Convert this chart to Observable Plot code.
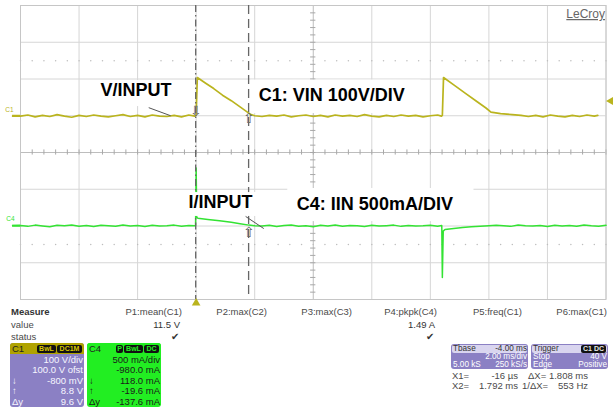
<!DOCTYPE html>
<html><head><meta charset="utf-8">
<script src="https://cdn.jsdelivr.net/npm/d3@7"></script>
<script src="https://cdn.jsdelivr.net/npm/@observablehq/plot@0.6"></script>
<style>
html,body{margin:0;padding:0;background:#fff;}
#wrap{position:relative;width:613px;height:408px;overflow:hidden;font-family:"Liberation Sans",Arial,sans-serif;}
#wrap > svg{position:absolute;left:0;top:0;}
.t{position:absolute;font-size:9.5px;line-height:10px;color:#4a4a4a;white-space:nowrap;}
.s{position:absolute;font-size:8.2px;line-height:8px;white-space:nowrap;}
.box{position:absolute;border-radius:3px;overflow:hidden;}
.badge{position:absolute;background:#111;border-radius:2px;font-size:7px;line-height:8px;text-align:center;font-weight:bold;}
</style></head><body><div id="wrap"></div>
<script>
// ---- Oscilloscope settings ----
const timeDomain = [-6, 14];          // ms (2 ms/div, 10 div, trigger at 0)
const divisionDomain = [-4, 4];       // vertical divisions
const channelNames = ["C1", "C4"];
const perDiv = [100, 500];            // C1: V/div, C4: mA/div
const offsets = [100, -980];          // C1: V, C4: mA
const triggerLevel = 40;              // V on C1
const cursorTimes = [-0.016, 1.792];  // ms
const c1AtCursor = [-0.8, 8.8];       // V
const c4AtCursor = [118.0, -19.6];    // mA

// ---- C1: VIN (V) ----
const c1Time = [-6.27,-6,-5.75,-5.5,-5.25,-5,-4.75,-4.5,-4.25,-4,-3.75,-3.5,-3.25,-3,-2.75,-2.5,-2.25,-2,-1.75,-1.5,-1.25,-1,-0.75,-0.5,-0.25,-0.05,
  0,0.04,0.3,0.6,0.9,1.2,1.5,1.75,1.85,2.0,
  2.25,2.5,2.75,3,3.25,3.5,3.75,4,4.25,4.5,4.75,5,5.25,5.5,5.75,6,6.25,6.5,6.75,7,7.25,7.5,7.75,8,8.25,8.38,
  8.41,8.45,8.8,9.2,9.6,9.9,10.07,10.4,10.8,11.1,
  11.35,11.6,11.85,12.1,12.35,12.6,12.85,13.1,13.35,13.6,13.72];
const c1Volt = [-1,-1,2,-3,1,-2,3,-1,-4,1,-2,2,-1,-3,0,3,-2,1,-3,2,-1,-2,1,-3,2,-1,
  2,104,90,74,56,41,24,10,4,0,
  -2,1,-1,2,-3,0,2,-2,1,-3,2,-1,1,-2,3,-1,-3,1,-2,2,-1,1,-3,0,2,-1,
  1,104,84,61,38,21,10,6,3,1,
  -2,1,-3,2,-1,-3,1,-2,2,-1,1];

// ---- C4: IIN (mA) ----
const c4Time = [-6.27,-6,-5.75,-5.5,-5.25,-5,-4.75,-4.5,-4.25,-4,-3.75,-3.5,-3.25,-3,-2.75,-2.5,-2.25,-2,-1.75,-1.5,-1.25,-1,-0.75,-0.5,-0.25,-0.05,
  -0.02,0,0.02,0.06,0.4,0.8,1.2,1.5,1.8,2.0,
  2.25,2.5,2.75,3,3.25,3.5,3.75,4,4.25,4.5,4.75,5,5.25,5.5,5.75,6,6.25,6.5,6.75,7,7.25,7.5,7.75,8,8.25,8.39,
  8.41,8.44,8.5,8.8,9.1,9.4,9.7,10.0,
  10.25,10.5,10.75,11,11.25,11.5,11.75,12,12.25,12.5,12.75,13,13.25,13.5,13.75,14];
const c4Amp = [-15,-12,-25,-8,-20,-30,-10,-18,-5,-22,-14,-28,-9,-17,-24,-6,-19,-13,-27,-11,-21,-16,-8,-23,-12,-18,
  -15,770,100,85,70,52,30,12,-8,-15,
  -20,-9,-26,-14,-7,-22,-16,-29,-11,-19,-6,-24,-13,-18,-27,-10,-21,-15,-8,-25,-12,-20,-17,-9,-23,-14,
  -720,-90,-68,-55,-42,-30,-22,-15,
  -10,-18,-25,-7,-16,-21,-12,-28,-9,-19,-14,-24,-6,-17,-22,-11];

// ---- annotations (time ms, divisions) ----
const annotations = [
  {text:"V/INPUT",            t:-3.27, d:1.69,  box:[-3.44,-0.53,1.25,1.96], ptr:[-1.62,1.22,-0.87,1.0]},
  {text:"C1: VIN 100V/DIV",   t:2.14,  d:1.55,  box:[1.87,7.68,1.06,1.97]},
  {text:"I/INPUT",            t:-0.26, d:-1.36, box:[-0.36,2.27,-1.74,-1.09], ptr:[1.69,-1.74,2.31,-2.07]},
  {text:"C4: IIN 500mA/DIV",  t:3.44,  d:-1.42, box:[3.13,9.49,-1.88,-0.98]}
];

const C1C = "#bab41e", C4C = "#33e333";
const toDiv = (v, ch) => (v + offsets[ch]) / perDiv[ch];
const c1Data = c1Time.map((t, i) => ({t, y: toDiv(c1Volt[i], 0)}));
const c4Data = c4Time.map((t, i) => ({t, y: toDiv(c4Amp[i], 1)}));
const majorT = d3.range(timeDomain[0], timeDomain[1] + 0.001, 2);
const majorD = d3.range(divisionDomain[0], divisionDomain[1] + 0.001, 1);
const minorT = d3.range(timeDomain[0], timeDomain[1] + 0.001, 0.4);
const minorD = d3.range(divisionDomain[0], divisionDomain[1] + 0.001, 0.2);
const centerT = 4;
const bold = {fontFamily:"Liberation Sans, Arial, sans-serif", fontWeight:"bold", fontSize:18, fill:"#000", textAnchor:"start", lineAnchor:"middle"};

const plot = Plot.plot({
  width: 613, height: 305,
  marginLeft: 20, marginRight: 7.5, marginTop: 5, marginBottom: 6,
  x: {domain: timeDomain, axis: null},
  y: {domain: divisionDomain, axis: null},
  style: {background: "transparent", overflow: "visible", fontFamily: "Liberation Sans, Arial, sans-serif"},
  marks: [
    Plot.ruleX(majorT.filter(t => t !== centerT), {stroke: "#d6d6d6"}),
    Plot.ruleY(majorD.filter(d => d !== 0), {stroke: "#d6d6d6"}),
    Plot.ruleX([centerT], {stroke: "#bdbdbd"}),
    Plot.ruleY([0], {stroke: "#bdbdbd"}),
    Plot.ruleX(minorT, {x: d => d, y1: -0.07, y2: 0.07, stroke: "#a8a8a8"}),
    Plot.ruleY(minorD, {y: d => d, x1: centerT - 0.09, x2: centerT + 0.09, stroke: "#a8a8a8"}),
    Plot.dot(minorT.flatMap(t => [[t, 2.5], [t, -2.5]]), {x: d => d[0], y: d => d[1], r: 0.75, fill: "#bdbdbd", stroke: null}),
    Plot.frame({stroke: "#c6c6c6"}),
    // channel ground markers
    Plot.ruleY([0], {y: d => toDiv(d, 0), x1: -6.27, x2: -6, stroke: C1C, strokeWidth: 2}),
    Plot.ruleY([0], {y: d => toDiv(d, 1) - 0.03, x1: -6.27, x2: -6, stroke: C4C, strokeWidth: 2}),
    Plot.text([channelNames[0]], {x: timeDomain[0], y: toDiv(0, 0), dx: -11, dy: -6, fontSize: 6.5, fill: C1C}),
    Plot.text([channelNames[1]], {x: timeDomain[0], y: toDiv(0, 1), dx: -10, dy: -6, fontSize: 6.5, fill: C4C}),
    // traces
    Plot.line(c1Data, {x: "t", y: "y", stroke: C1C, strokeWidth: 1.7}),
    Plot.line(c4Data, {x: "t", y: "y", stroke: C4C, strokeWidth: 1.5}),
    // cursors
    Plot.ruleX([cursorTimes[0]], {stroke: "#666", strokeWidth: 1.3, strokeDasharray: "7,3,1.5,3"}),
    Plot.ruleX([cursorTimes[1]], {stroke: "#666", strokeWidth: 1.3, strokeDasharray: "9,5"}),
    Plot.text([c1AtCursor[0]], {x: cursorTimes[0], y: d => toDiv(d, 0), dy: -5, text: () => "⇩", fontSize: 14, fill: "#666"}),
    Plot.text([c1AtCursor[1]], {x: cursorTimes[1], y: d => toDiv(d, 0), dy: 6, text: () => "⇧", fontSize: 14, fill: "#666"}),
    Plot.text([c4AtCursor[1]], {x: cursorTimes[1], y: d => toDiv(d, 1), dy: 7, text: () => "⇧", fontSize: 14, fill: "#666"}),
    // trigger markers
    Plot.dot([triggerLevel], {x: timeDomain[1], y: d => toDiv(d, 0), dx: 5, symbol: "triangle", rotate: -90, r: 3.2, fill: C1C, stroke: null}),
    Plot.dot([0], {x: d => d, y: divisionDomain[0], dy: 3.5, symbol: "triangle", r: 3.2, fill: C1C, stroke: null}),
    // annotations
    Plot.rect(annotations, {x1: d => d.box[0], x2: d => d.box[1], y1: d => d.box[2], y2: d => d.box[3], fill: "#fff"}),
    Plot.link(annotations.filter(d => d.ptr), {x1: d => d.ptr[0], y1: d => d.ptr[1], x2: d => d.ptr[2], y2: d => d.ptr[3], stroke: "#555", strokeWidth: 1}),
    Plot.text(annotations, {x: "t", y: "d", text: "text", ...bold}),
    // brand
    Plot.text(["LeCroy"], {frameAnchor: "top-right", dx: -1, dy: 4, fontSize: 12, fill: "#666", className: "brand"})
  ]
});
d3.select(plot).selectAll(".brand text").style("text-decoration", "underline");

const wrap = document.getElementById("wrap");
wrap.appendChild(plot);

function el(cls, css, text) {
  const d = document.createElement("div");
  d.className = cls;
  Object.assign(d.style, css);
  if (text != null) d.textContent = text;
  wrap.appendChild(d);
  return d;
}
const px = v => v + "px";
function put(text, left, top, css = {}, cls = "t") { return el(cls, {left: px(left), top: px(top), ...css}, text); }
function putR(text, right, top, css = {}, cls = "t") { return el(cls, {right: px(613 - right), top: px(top), ...css}, text); }

// ---- measurement table ----
const measureHeaders = ["P1:mean(C1)", "P2:max(C2)", "P3:max(C3)", "P4:pkpk(C4)", "P5:freq(C1)", "P6:max(C1)"];
const measureValues = ["11.5 V", "", "", "1.49 A", "", ""];
const measureStatus = [true, false, false, true, false, false];
put("Measure", 11, 307, {fontWeight: "bold", color: "#333"});
put("value", 11, 319.5);
put("status", 11, 332);
measureHeaders.forEach((h, i) => {
  const r = 182 + i * 85;
  putR(h, r, 307);
  if (measureValues[i]) putR(measureValues[i], r - 2, 319.5, {color: "#333"});
  if (measureStatus[i]) putR("✔", r - 3, 332, {color: "#333"});
});

// ---- channel descriptors ----
const c1Desc = [["", "100 V/div"], ["", "100.0 V ofst"], ["↓", "-800 mV"], ["↑", "8.8 V"], ["Δy", "9.6 V"]];
const c4Desc = [["", "500 mA/div"], ["", "-980.0 mA"], ["↓", "118.0 mA"], ["↑", "-19.6 mA"], ["Δy", "-137.6 mA"]];
const C1HEAD = "#b0a300", PURPLE = "#8b80c4", GREEN = "#22ee22";

function channelBox(left, name, desc, head, body, txt, badges, badgeTxt) {
  el("box", {left: px(left), top: "343px", width: "74px", height: "64px", background: body});
  el("box", {left: px(left), top: "343px", width: "74px", height: "11px", background: head, borderRadius: "3px 3px 0 0"});
  put(name, left + 2, 344, {color: "#222"});
  badges.forEach(b => el("badge", {left: px(left + b[1]), top: "345px", width: px(b[2]), color: badgeTxt}, b[0]));
  desc.forEach((row, i) => {
    const top = 355 + i * 10.4;
    if (row[0]) put(row[0], left + 2, top, {color: txt});
    putR(row[1], left + 73, top, {color: txt});
  });
}
channelBox(10, "C1", c1Desc, C1HEAD, PURPLE, "#f6f6ff", [["BwL", 27, 19], ["DC1M", 47, 25]], "#d8c800");
channelBox(87, "C4", c4Desc, GREEN, GREEN, "#1a1a1a", [["P", 29, 7], ["BwL", 37, 19], ["DC", 57, 15]], GREEN);

// ---- timebase / trigger ----
function infoBox(left, headL, headR, rows, badge) {
  el("box", {left: px(left), top: "344px", width: "77px", height: "25px", background: PURPLE});
  el("box", {left: px(left + 1), top: "345px", width: "75px", height: "8px", background: "#d9d5ef", borderRadius: "2px"});
  put(headL, left + 2, 345, {color: "#333"}, "s");
  if (headR) putR(headR, left + 76, 345, {color: "#333"}, "s");
  if (badge) el("badge", {left: px(left + 50), top: "345px", width: "25px", color: "#e8e8e8"}, badge);
  rows.forEach((r, i) => {
    const top = 353 + i * 8;
    if (r[0]) put(r[0], left + 2, top, {color: "#fff"}, "s");
    putR(r[1], left + 76, top, {color: "#fff"}, "s");
  });
}
infoBox(451, "Tbase", "-4.00 ms", [["", "2.00 ms/div"], ["5.00 kS", "250 kS/s"]]);
infoBox(531, "Trigger", "", [["Stop", "40 V"], ["Edge", "Positive"]], "C1 DC");

// ---- cursor readouts ----
put("X1=", 452, 371); putR("-16 µs", 518, 371); put("ΔX=", 528, 371); putR("1.808 ms", 588, 371);
put("X2=", 452, 381); putR("1.792 ms", 518, 381); put("1/ΔX=", 522, 381); putR("553 Hz", 588, 381);
</script></body></html>
